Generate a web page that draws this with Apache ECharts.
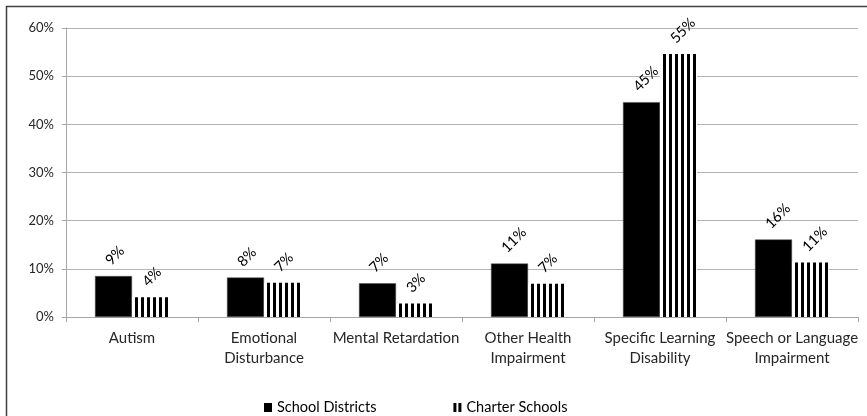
<!DOCTYPE html>
<html>
<head>
<meta charset="utf-8">
<script src="https://cdn.jsdelivr.net/npm/echarts@6/dist/echarts.min.js"></script>
<style>
  html, body { margin: 0; padding: 0; background: #fff; }
  #chart { width: 867px; height: 416px; }
</style>
</head>
<body>
<div id="chart"></div>
<script>
// Disability categories and their axis tick labels (wrapped as shown)
const categories = [
  'Autism',
  'Emotional Disturbance',
  'Mental Retardation',
  'Other Health Impairment',
  'Specific Learning Disability',
  'Speech or Language Impairment'
];
const tickLabels = [
  'Autism',
  'Emotional\nDisturbance',
  'Mental Retardation',
  'Other Health\nImpairment',
  'Specific Learning\nDisability',
  'Speech or Language\nImpairment'
];

// Share of students with disabilities, in percent
const schoolDistricts = [8.5, 8.2, 7.0, 11.1, 44.6, 16.1];
const charterSchools = [4.1, 7.1, 2.8, 6.9, 54.6, 11.3];

// Value axis ticks
const yMin = 0;
const yMax = 60;
const yStep = 10;

const FONT = 'Lato, "Open Sans", sans-serif';

// Vertical stripe fill for the charter school bars
function stripePattern() {
  const c = document.createElement('canvas');
  c.width = 6;
  c.height = 6;
  const ctx = c.getContext('2d');
  ctx.fillStyle = '#ffffff';
  ctx.fillRect(0, 0, 6, 6);
  ctx.fillStyle = '#000000';
  ctx.fillRect(3, 0, 3, 6);
  return c;
}

const valueLabel = {
  show: true,
  position: 'top',
  distance: 19,
  rotate: 45,
  align: 'left',
  verticalAlign: 'middle',
  offset: [-8, 0],
  color: '#000',
  fontFamily: FONT,
  fontSize: 14.5,
  formatter: p => Math.round(p.value) + '%'
};

const chart = echarts.init(document.getElementById('chart'), null, { renderer: 'canvas' });

chart.setOption({
  animation: false,
  backgroundColor: '#fff',
  graphic: [{
    type: 'rect',
    left: 4,
    top: 4,
    shape: { width: 900, height: 500 },
    style: { fill: 'none', stroke: '#404040', lineWidth: 1.5 },
    silent: true,
    z: 100
  }],
  grid: { left: 66, right: 9, top: 28, bottom: 99, containLabel: false },
  legend: {
    left: 259,
    top: 395,
    itemWidth: 8,
    itemHeight: 9,
    itemGap: 77,
    itemStyle: { borderWidth: 0 },
    textStyle: { fontFamily: FONT, fontSize: 14.5, color: '#000' },
    data: [
      { name: 'School Districts', icon: 'rect', itemStyle: { color: '#000', borderWidth: 0 } },
      { name: 'Charter Schools', icon: 'path://M0,0h3v9h-3zM5,0h3v9h-3z', itemStyle: { color: '#000', borderWidth: 0 } }
    ]
  },
  xAxis: {
    type: 'category',
    data: categories,
    axisLine: { lineStyle: { color: '#a6a6a6', width: 1 } },
    axisTick: { show: true, length: 5, lineStyle: { color: '#a6a6a6' } },
    axisLabel: {
      interval: 0,
      margin: 11,
      color: '#262626',
      fontFamily: FONT,
      fontSize: 15,
      lineHeight: 20,
      formatter: (v, i) => tickLabels[i]
    }
  },
  yAxis: {
    type: 'value',
    min: yMin,
    max: yMax,
    interval: yStep,
    axisLine: { show: true, lineStyle: { color: '#a6a6a6', width: 1 } },
    axisTick: { show: true, length: 4, lineStyle: { color: '#a6a6a6' } },
    splitLine: { lineStyle: { color: '#b3b3b3', width: 1 } },
    axisLabel: {
      margin: 12,
      color: '#262626',
      fontFamily: FONT,
      fontSize: 13,
      formatter: v => v + '%'
    }
  },
  series: [
    {
      name: 'School Districts',
      type: 'bar',
      data: schoolDistricts,
      barWidth: 37,
      barGap: '0%',
      itemStyle: { color: '#000', borderColor: '#555', borderWidth: 0.5 },
      label: valueLabel
    },
    {
      name: 'Charter Schools',
      type: 'bar',
      data: charterSchools,
      barWidth: 37,
      barGap: '0%',
      itemStyle: { color: { image: stripePattern(), repeat: 'repeat' } },
      label: valueLabel
    }
  ]
});
</script>
</body>
</html>
